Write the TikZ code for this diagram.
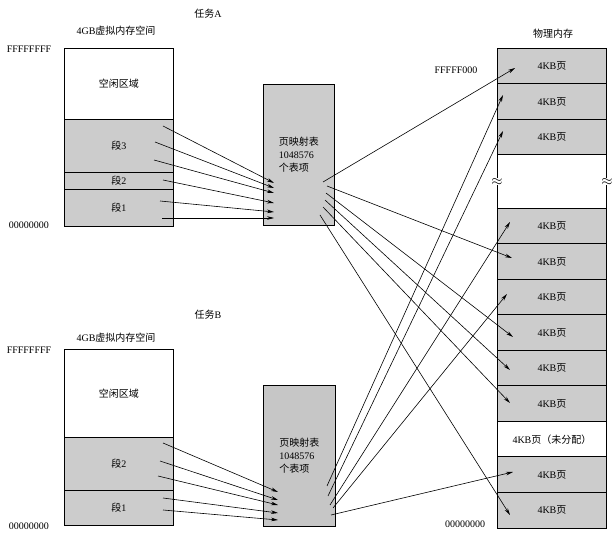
\documentclass[tikz,border=0pt]{standalone}
\usepackage{fontspec}
\setmainfont{Liberation Serif}
\newfontfamily\cjk{Noto Sans CJK SC}
\usepackage{tikz}
\usetikzlibrary{arrows.meta}

\begin{document}
\begin{tikzpicture}[x=1pt, y=-1pt, >={Stealth[length=7pt, width=3.6pt]}, font=\fontsize{10}{13}\selectfont,
    every node/.style={inner sep=0pt},
    region/.style={draw, line width=0.9pt, anchor=north west, minimum width=109pt},
    used/.style={region, fill=gray!40},
    free/.style={region, fill=white},
    link/.style={->, line width=0.6pt}]
    \useasboundingbox (0,0) rectangle (614,540);

    % task A
    \node (taskA)  at (208,14)  {{\cjk 任务}A};
    \node (vmtitA) at (116,31)  {4GB{\cjk 虚拟内存空间}};
    \node (hiA)    at (29,49)   {FFFFFFFF};
    \node (loA)    at (29,225)  {00000000};
    \node[free, minimum height=71pt] (freeA) at (64,48)  {\cjk 空闲区域};
    \node[used, minimum height=53pt] (s3A)   at (64,119) {{\cjk 段}3};
    \node[used, minimum height=17pt] (s2A)   at (64,172) {{\cjk 段}2};
    \node[used, minimum height=37pt] (s1A)   at (64,189) {{\cjk 段}1};
    \node[used, minimum width=71pt, minimum height=141pt, align=left] (ptA) at (263,84)
        {{\cjk 页映射表}\\1048576\\{\cjk 个表项}};

    % task B
    \node (taskB)  at (208,315) {{\cjk 任务}B};
    \node (vmtitB) at (116,338) {4GB{\cjk 虚拟内存空间}};
    \node (hiB)    at (29,350)  {FFFFFFFF};
    \node (loB)    at (29,526)  {00000000};
    \node[free, minimum height=88pt] (freeB) at (64,349) {\cjk 空闲区域};
    \node[used, minimum height=53pt] (s2B)   at (64,437) {{\cjk 段}2};
    \node[used, minimum height=35pt] (s1B)   at (64,490) {{\cjk 段}1};
    \node[used, fill=gray!45, minimum width=72pt, minimum height=141pt, align=left] (ptB) at (263,385)
        {{\cjk 页映射表}\\1048576\\{\cjk 个表项}};

    % physical memory
    \node (phys)  at (553,34)  {\cjk 物理内存};
    \node (hiP)   at (456,70)  {FFFFF000};
    \node (loP)   at (465,524) {00000000};
    \foreach \i/\y in {1/48, 2/83.5, 3/119, 4/208, 5/243.5, 6/279, 7/314.5, 8/350, 9/385.5, 11/456.5, 12/492}
        \node[used, minimum height=35.5pt] (p\i) at (497,\y) {4KB{\cjk 页}};
    \node[free, minimum height=35.5pt] (p10) at (497,421) {4KB{\cjk 页（未分配）}};
    \node[region, draw=none, minimum height=53.5pt] (gap) at (497,154.5) {};
    \draw[line width=0.9pt] (gap.north west) -- (gap.south west) (gap.north east) -- (gap.south east);
    \node[fill=white, inner sep=0.3pt, font=\fontsize{15}{15}\selectfont] (brkL) at (gap.west) {$\approx$};
    \node[fill=white, inner sep=0.3pt, font=\fontsize{15}{15}\selectfont] (brkR) at (gap.east) {$\approx$};

    % mappings
    \foreach \n/\sx/\sy/\tx/\ty in {
        a1/163/126/274/183, a2/155/142/274/188, a3/154/160/274/193,
        a4/163/180/274/203, a5/160/201/274/212, a6/162/218/274/218,
        b1/323/182/515/68,  b2/327/186/512/258, b3/326/193/513/337,
        b4/325/200/510/370, b5/323/207/510/403, b6/320/215/510/515,
        c1/327/486/503/95,  c2/328/496/503/131, c3/330/505/510/222,
        c4/333/508/507/294, c5/331/515/513/472,
        d1/163/443/278/492, d2/160/461/278/500, d3/158/476/278/505,
        d4/163/498/278/513, d5/163/510/278/520} {
        \coordinate (\n-s) at (\sx,\sy);
        \coordinate (\n-t) at (\tx,\ty);
        \draw[link] (\n-s) -- (\n-t);
    }
\end{tikzpicture}
\end{document}
